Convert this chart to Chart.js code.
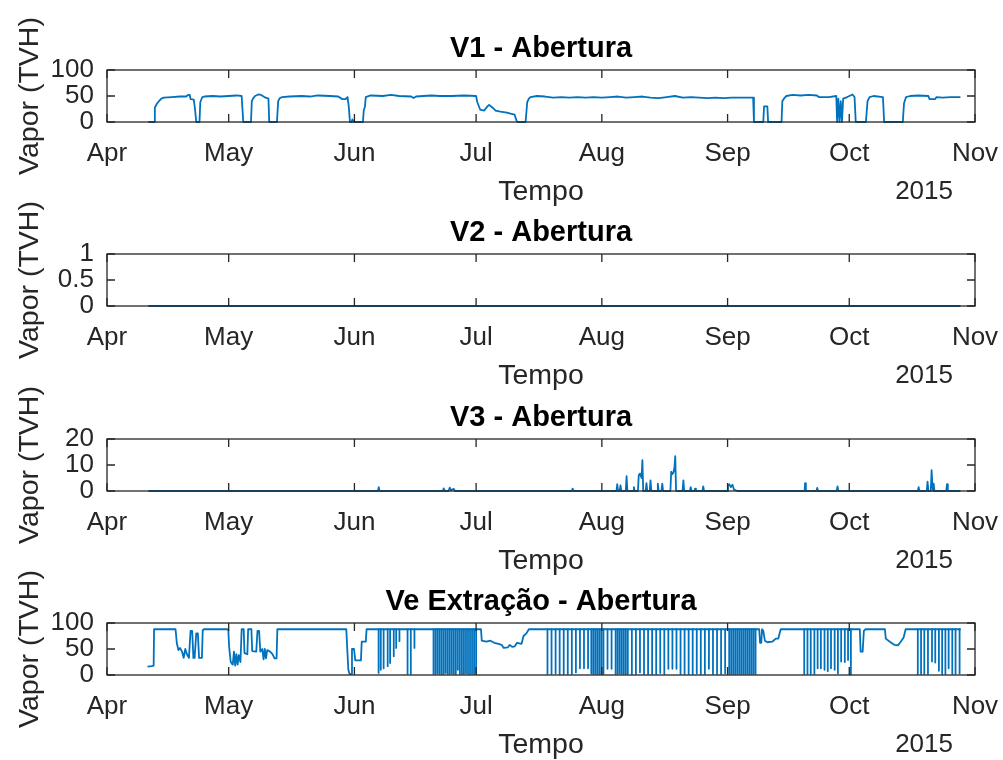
<!DOCTYPE html>
<html>
<head>
<meta charset="utf-8">
<script src="https://cdn.jsdelivr.net/npm/chart.js@4.4.1/dist/chart.umd.min.js"></script>
<style>
  html, body { margin: 0; padding: 0; background: #fff; }
  #fig { position: relative; width: 1003px; height: 760px; background: #fff; overflow: hidden; }
  #fig canvas { position: absolute; left: 0; }
</style>
</head>
<body>
<div id="fig">
  <canvas id="c1" width="1003" height="207" style="top:0px"></canvas>
  <canvas id="c2" width="1003" height="207" style="top:184px"></canvas>
  <canvas id="c3" width="1003" height="207" style="top:369px"></canvas>
  <canvas id="c4" width="1003" height="207" style="top:553px"></canvas>
</div>
<script>
// x axis: days counted from 1 April 2015
const monthDays  = [0, 30, 61, 91, 122, 153, 183, 214];
const monthNames = ['Apr', 'May', 'Jun', 'Jul', 'Aug', 'Sep', 'Oct', 'Nov'];
const yearLabel  = '2015';
const xLabel     = 'Tempo';
const yLabel     = 'Vapor (TVH)';
const titles     = ['V1 - Abertura', 'V2 - Abertura', 'V3 - Abertura', 'Ve Extração - Abertura'];

// y tick values per panel
const yTicksV1 = [0, 50, 100];
const yTicksV2 = [0, 0.5, 1];
const yTicksV3 = [0, 10, 20];
const yTicksVe = [0, 50, 100];

// V1 opening [day, TVH]
const v1Trace = [
  [10.2, 0], [11.6, 0], [11.8, 28], [12.3, 35], [12.8, 40], [13.4, 45], [14.0, 47], [16, 48], [18, 49],
  [19.5, 49], [20.0, 52], [20.4, 52], [20.6, 44], [21.4, 43], [21.7, 25], [22.0, 0], [22.8, 0], [23.0, 38],
  [23.5, 48], [24, 49], [26, 50], [28, 49], [30, 50], [32, 51], [33.2, 50], [33.6, 0], [35.5, 0], [35.7, 40],
  [36.0, 45], [36.5, 50], [37.3, 53], [38.0, 52], [38.8, 48], [39.8, 45], [40.0, 0], [41.9, 0], [42.2, 40],
  [42.6, 46], [43.2, 48], [45, 49], [48, 50], [50, 49], [52, 51], [55, 50], [57, 49], [58.0, 44], [58.8, 44],
  [59.3, 48], [59.6, 30], [59.9, 0], [60.3, 0], [60.5, 5], [60.8, 0], [63.1, 0], [63.3, 22], [63.6, 30],
  [63.8, 48], [65, 51], [68, 50], [70, 52], [72, 50], [75, 49], [75.6, 46], [76.2, 49], [78, 50], [80, 51],
  [82, 50], [85, 50], [88, 51], [91.0, 50], [91.3, 38], [92.0, 24], [93.0, 22], [93.8, 30], [94.2, 33],
  [95.0, 28], [95.8, 22], [97, 20], [98.6, 18], [99.5, 16], [100.5, 14], [101.0, 2], [101.2, 0], [103.2, 0],
  [103.6, 38], [104.0, 45], [104.4, 48], [106, 50], [108, 49], [110, 47], [112, 48], [114, 47], [116, 48],
  [118, 47], [120, 48], [122, 47], [124, 48], [126, 49], [128, 47], [130, 48], [132, 49], [134, 47], [136, 46],
  [138, 48], [140, 50], [142, 47], [144, 48], [146, 47], [148, 46], [150, 47], [152, 46], [154, 47], [156, 47],
  [159.3, 47], [159.5, 0], [161.8, 0], [162.0, 30], [162.8, 30], [163.0, 0], [166.3, 0], [166.5, 40],
  [167.0, 46], [167.5, 50], [169, 52], [171, 51], [173, 52], [175, 51], [175.5, 48], [178, 48], [179.8, 50],
  [180.0, 0], [180.3, 45], [180.6, 0], [180.9, 40], [181.2, 0], [181.5, 45], [182.5, 48], [183.8, 53],
  [184.3, 48], [184.6, 0], [187.1, 0], [187.5, 40], [188, 48], [189, 50], [191.3, 48], [191.6, 0], [196.2, 0],
  [196.5, 36], [197.0, 48], [198, 50], [200, 51], [202.5, 50], [202.8, 44], [204.2, 44], [204.5, 48],
  [206, 47], [208, 48], [210.4, 48]
];

// V2 opening [day, TVH]
const v2Trace = [[10.2, 0], [210.4, 0]];

// V3 opening [day, TVH]
const v3Trace = [
  [10.2, 0], [66.8, 0], [67.0, 1.5], [67.2, 0], [82.8, 0], [83.0, 1.0], [83.3, 0], [84.2, 0], [84.5, 1.3],
  [84.8, 0.3], [85.5, 0.8], [85.8, 0], [114.6, 0], [114.8, 0.9], [115.0, 0], [125.6, 0], [125.8, 2.6],
  [126.0, 0], [126.4, 0], [126.6, 2.2], [126.8, 0], [127.9, 0], [128.1, 5.7], [128.3, 0], [129.7, 0],
  [129.9, 1.5], [130.1, 0], [130.9, 0], [131.1, 6.1], [131.4, 6.7], [131.8, 5], [132.0, 11.9], [132.2, 0],
  [132.8, 0], [133.0, 3.0], [133.2, 0], [133.8, 0], [134.0, 4.1], [134.2, 0], [135.6, 0], [135.8, 2.8],
  [136.0, 0], [136.7, 0], [136.9, 2.8], [137.1, 0], [138.9, 0], [139.1, 7.4], [139.4, 6.5], [139.7, 7.4],
  [139.9, 9], [140.1, 13.4], [140.3, 0], [141.9, 0], [142.1, 4.1], [142.3, 0], [143.7, 0], [143.9, 1.5],
  [144.1, 0], [144.8, 0], [145.0, 0.9], [145.2, 0], [146.8, 0], [147.0, 1.8], [147.2, 0], [152.9, 0],
  [153.1, 2.0], [153.4, 2.6], [153.8, 1.5], [154.2, 2.4], [154.6, 0.5], [155.4, 0], [172.0, 0], [172.1, 3.0],
  [172.3, 0], [174.9, 0], [175.1, 1.2], [175.3, 0], [179.9, 0], [180.1, 1.8], [180.3, 0], [199.9, 0],
  [200.1, 1.5], [200.3, 0], [202.1, 0], [202.3, 3.6], [202.5, 0], [203.1, 0], [203.3, 8.0], [203.5, 2],
  [203.7, 0], [203.8, 2.8], [204.0, 0], [206.9, 0], [207.1, 2.6], [207.3, 0], [210.4, 0]
];

// Ve extraction opening: slow trace [day, TVH]
const veTrace = [
  [10.0, 16], [11.0, 17], [11.5, 18], [11.6, 88], [16.9, 88], [17.2, 62], [17.6, 48], [18.0, 52], [18.5, 45],
  [18.9, 33], [19.3, 50], [19.7, 40], [20.2, 33], [20.6, 85], [21.0, 85], [21.3, 33], [21.6, 33], [22.0, 80],
  [22.4, 80], [22.7, 33], [23.4, 33], [23.6, 86], [23.9, 88], [29.9, 88], [30.1, 55], [30.5, 25], [31.0, 20],
  [31.3, 45], [31.6, 18], [31.9, 40], [32.2, 20], [32.5, 38], [32.9, 25], [33.2, 88], [33.7, 88], [33.9, 42],
  [34.6, 40], [34.8, 88], [35.6, 88], [35.8, 46], [36.8, 45], [37.1, 85], [37.5, 85], [37.8, 45], [38.3, 50],
  [38.6, 30], [38.9, 50], [39.2, 32], [39.5, 48], [40.2, 45], [40.8, 40], [41.3, 32], [41.8, 32], [42.0, 88],
  [59.0, 88], [59.2, 55], [59.5, 10], [59.8, 2], [60.2, 2], [60.4, 50], [60.9, 50], [61.2, 28], [62.6, 28],
  [62.8, 64], [63.8, 64], [64.0, 88], [92.2, 88], [92.4, 66], [93.5, 64], [94.5, 66], [95.5, 62], [96.5, 60],
  [97.3, 58], [97.8, 52], [98.8, 53], [99.3, 58], [99.9, 54], [100.5, 55], [101.1, 62], [102.2, 60],
  [102.7, 75], [103.4, 80], [104.0, 88], [160.8, 88], [161.0, 62], [161.3, 62], [161.5, 88], [161.8, 85],
  [162.2, 66], [162.8, 63], [164.0, 64], [164.9, 70], [165.5, 70], [166.1, 88], [185.6, 88], [185.8, 45],
  [186.3, 45], [186.6, 85], [187.0, 88], [191.8, 88], [192.0, 70], [193.0, 64], [194.1, 58], [195.0, 57],
  [195.7, 64], [196.4, 72], [196.9, 88], [210.5, 88]
];

// Ve extraction: short closing events (day, lowest opening reached)
const veDipDays = [
  66.96, 67.5, 68.2, 69.2, 69.8, 70.7, 71.3, 72.1, 74.1, 74.9, 75.8,
  80.5, 81.0, 81.5, 82.0, 82.5, 83.0, 83.5, 84.0, 84.5, 85.0, 85.5, 86.0, 86.5, 87.0, 87.5, 88.0, 88.5,
  89.0, 89.5, 90.0, 90.5, 91.0,
  108.6, 109.6, 110.6, 111.6, 112.6, 113.6, 114.6, 115.6, 116.6, 117.6, 118.6, 119.4, 119.9, 120.4, 120.9,
  121.4, 121.9, 122.4, 123.4, 124.4, 125.4, 125.9, 126.4, 126.9, 127.4, 127.9, 128.4, 129.4, 130.4, 131.4,
  132.4, 133.4, 134.4, 135.4, 136.4, 137.4, 138.4, 139.4, 140.4, 141.4, 142.4, 143.4, 144.4, 145.4, 146.4,
  147.4, 148.4, 149.4, 150.4, 151.4, 152.4, 153.4, 153.9, 154.4, 154.9, 155.4, 155.9, 156.4, 156.9, 157.4,
  157.9, 158.4, 158.9, 159.4, 159.9,
  171.9, 172.7, 173.5, 174.4, 175.2, 176.0, 176.9, 177.7, 178.5, 179.4, 180.2, 181.0, 181.9, 182.7, 183.4,
  199.9, 200.7, 201.5, 202.4, 203.4, 204.2, 205.1, 205.9, 206.7, 207.5, 208.4, 209.2, 210.2
];
const veDipVals = [
  4, 10, 13, 17, 23, 36, 52, 65, 2, 2, 52,
  2, 2, 3, 2, 2, 2, 4, 2, 2, 3, 2, 2, 10, 2, 2, 2, 3, 2, 2, 2, 2, 3,
  2, 2, 3, 2, 2, 2, 2, 5, 13, 13, 13, 3, 2, 2, 2,
  2, 2, 2, 12, 12, 2, 2, 3, 2, 2, 2, 2, 2, 2, 5,
  2, 2, 2, 2, 4, 2, 12, 12, 12, 2, 2, 2, 2, 3, 2,
  2, 12, 2, 2, 2, 3, 2, 2, 2, 2, 2, 2, 2, 2, 2,
  2, 2, 2, 2, 2,
  2, 2, 2, 2, 13, 13, 10, 7, 13, 10, 3, 26, 25, 29, 1,
  2, 2, 2, 2, 26, 24, 8, 2, 2, 13, 2, 2, 3
];
const veDipTop = 88;

const LINE = '#0072BD';
const AXIS = '#262626';
const FAMILY = '"Liberation Sans", Arial, sans-serif';

function toPoints(trace) {
  return trace.map(([d, v]) => ({ x: d, y: v }));
}

// each closing event drawn as a vertical stroke hanging from the running level
function dipPoints(days, vals, top) {
  const pts = [];
  days.forEach((d, i) => {
    pts.push({ x: d, y: top }, { x: d, y: vals[i] }, { x: d, y: null });
  });
  return pts;
}

const framePlugin = {
  id: 'frame',
  afterDraw(chart, args, opts) {
    const { ctx, chartArea: a, scales: { x, y } } = chart;
    const cx = (a.left + a.right) / 2;
    ctx.save();
    ctx.strokeStyle = AXIS;
    ctx.lineWidth = 1.3;
    ctx.strokeRect(a.left, a.top, a.right - a.left, a.bottom - a.top);
    const tl = 8;
    ctx.beginPath();
    x.ticks.forEach(t => {
      const px = x.getPixelForValue(t.value);
      ctx.moveTo(px, a.bottom); ctx.lineTo(px, a.bottom - tl);
      ctx.moveTo(px, a.top); ctx.lineTo(px, a.top + tl);
    });
    y.ticks.forEach(t => {
      const py = y.getPixelForValue(t.value);
      ctx.moveTo(a.left, py); ctx.lineTo(a.left + tl, py);
      ctx.moveTo(a.right, py); ctx.lineTo(a.right - tl, py);
    });
    ctx.stroke();

    ctx.textBaseline = 'alphabetic';
    ctx.textAlign = 'center';
    ctx.fillStyle = '#000';
    ctx.font = 'bold 29px ' + FAMILY;
    ctx.fillText(opts.title, cx, 57);

    ctx.fillStyle = AXIS;
    ctx.font = '28.5px ' + FAMILY;
    ctx.fillText(xLabel, cx, 200);

    ctx.font = '26px ' + FAMILY;
    ctx.textAlign = 'right';
    ctx.fillText(yearLabel, 953, 199);

    ctx.font = '28.5px ' + FAMILY;
    ctx.textAlign = 'center';
    ctx.translate(38, (a.top + a.bottom) / 2);
    ctx.rotate(-Math.PI / 2);
    ctx.fillText(yLabel, 0, 0);
    ctx.restore();
  }
};

const panels = [
  { id: 'c1', title: titles[0], sets: [toPoints(v1Trace)], yTicks: yTicksV1 },
  { id: 'c2', title: titles[1], sets: [toPoints(v2Trace)], yTicks: yTicksV2 },
  { id: 'c3', title: titles[2], sets: [toPoints(v3Trace)], yTicks: yTicksV3 },
  { id: 'c4', title: titles[3], sets: [toPoints(veTrace), dipPoints(veDipDays, veDipVals, veDipTop)], yTicks: yTicksVe }
];

panels.forEach(p => {
  const yt = p.yTicks;
  new Chart(document.getElementById(p.id), {
    type: 'line',
    data: {
      datasets: p.sets.map(pts => ({
        data: pts,
        borderColor: LINE,
        borderWidth: 1.8,
        borderJoinStyle: 'round',
        borderCapStyle: 'butt',
        pointRadius: 0,
        tension: 0,
        spanGaps: false,
        clip: false
      }))
    },
    options: {
      responsive: false,
      animation: false,
      devicePixelRatio: 1,
      layout: { padding: { top: 70, right: 28, left: 0, bottom: 0 } },
      plugins: {
        legend: { display: false },
        tooltip: { enabled: false },
        title: { display: false },
        frame: { title: p.title }
      },
      scales: {
        x: {
          type: 'linear',
          min: monthDays[0],
          max: monthDays[monthDays.length - 1],
          grid: { display: false, drawTicks: false },
          border: { display: false },
          afterBuildTicks: s => { s.ticks = monthDays.map(v => ({ value: v })); },
          afterFit: s => { s.height = 85; s.paddingLeft = 0; s.paddingRight = 0; },
          ticks: {
            autoSkip: false, maxRotation: 0, minRotation: 0, padding: 16,
            color: AXIS, font: { family: FAMILY, size: 26 },
            callback: v => monthNames[monthDays.indexOf(v)]
          }
        },
        y: {
          min: yt[0],
          max: yt[yt.length - 1],
          grid: { display: false, drawTicks: false },
          border: { display: false },
          afterBuildTicks: s => { s.ticks = yt.map(v => ({ value: v })); },
          afterFit: s => { s.width = 107; s.paddingTop = 0; s.paddingBottom = 0; },
          ticks: {
            autoSkip: false, padding: 13,
            color: AXIS, font: { family: FAMILY, size: 26 },
            callback: v => String(v)
          }
        }
      }
    },
    plugins: [framePlugin]
  });
});
</script>
</body>
</html>
